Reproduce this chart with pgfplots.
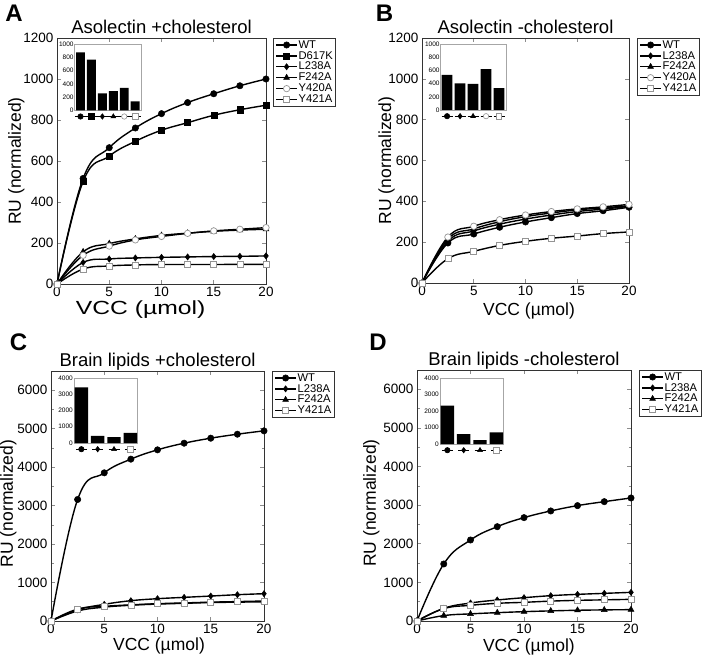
\documentclass[border=0pt]{standalone}
\usepackage{fontspec}
\setmainfont{Liberation Sans}
\usepackage{pgfplots}
\pgfplotsset{compat=1.18}

\definecolor{opengray}{gray}{0.58}

% small legend-like marks used as inset tick labels
\newcommand{\mkr}[3]{\tikz[baseline=-0.5ex]{\draw[line width=1pt] (-5.5pt,0)--(5.5pt,0);
  \begin{pgfscope}\pgfsetstrokecolor{#1}\pgfsetfillcolor{#2}\pgfsetlinewidth{0.6pt}%
  \pgfsetplotmarksize{2.7pt}\pgfuseplotmark{#3}\end{pgfscope}}}
\newcommand{\mWT}{\mkr{black}{black}{*}}
\newcommand{\mSQ}{\mkr{black}{black}{square*}}
\newcommand{\mDM}{\mkr{black}{black}{diamond*}}
\newcommand{\mTR}{\mkr{black}{black}{triangle*}}
\newcommand{\mOC}{\mkr{opengray}{white}{*}}
\newcommand{\mOS}{\mkr{opengray}{white}{square*}}

\pgfplotsset{
  main/.style={
    scale only axis, anchor=south west,
    xmin=0, xmax=20, ymin=0, xtick={0,5,...,20},
    tick align=inside, major tick length=4pt, minor tick length=2.5pt,
    tick style={black!45, line width=0.6pt},
    axis line style={black!80, line width=0.9pt},
    ticklabel style={font=\fontsize{13.5}{15}\selectfont},
    /pgf/number format/assume math mode=true,
    /pgf/number format/1000 sep={},
    scaled y ticks=false,
    label style={font=\fontsize{17.5}{20}\selectfont},
    title style={font=\fontsize{18.5}{21}\selectfont, at={(axis description cs:0.5,1)}, anchor=base, yshift=-1.5pt},
    legend style={at={(1,1)}, anchor=north west, draw=black!80, line width=0.8pt,
      font=\fontsize{11.2}{12}\selectfont, inner xsep=2pt, inner ysep=1.2pt,
      nodes={inner sep=0.8pt}, cells={anchor=west}},
    legend image code/.code={\draw[mark repeat=2,mark phase=2] plot coordinates {(0pt,0pt)(10.5pt,0pt)(21pt,0pt)};},
  },
  ins/.style={
    scale only axis, anchor=south west, ybar, ymin=0, xtick=data,
    bar width=0.82, major tick length=0pt,
    axis line style={black!35, line width=0.7pt},
    yticklabel style={font=\fontsize{6.5}{7}\selectfont, inner sep=1pt},
    xticklabel style={inner sep=0pt, yshift=-3.3pt},
    /pgf/number format/assume math mode=true,
    /pgf/number format/1000 sep={},
    scaled y ticks=false,
  },
  base/.style={black, line width=1.4pt, smooth, tension=0.7, mark options={solid}},
  wt/.style={base, mark=*, mark size=3.2pt, mark options={fill=black, line width=0.5pt}},
  sq/.style={base, mark=square*, mark size=3pt, mark options={fill=black, line width=0.5pt}},
  dm/.style={base, mark=diamond*, mark size=3.1pt, mark options={fill=black, line width=0.5pt}},
  tr/.style={base, mark=triangle*, mark size=3.4pt, mark options={fill=black, line width=0.5pt}},
  oc/.style={base, mark=*, mark size=3.2pt, mark options={draw=opengray, fill=white, line width=0.7pt}},
  os/.style={base, mark=square*, mark size=3pt, mark options={draw=opengray, fill=white, line width=0.7pt}},
  bars/.style={fill=black, draw=none},
}

\begin{document}
\begin{tikzpicture}
\useasboundingbox (0,0) rectangle (709pt,657pt);

% ---------------- A ----------------
\begin{axis}[main, at={(57pt,373pt)}, width=209pt, height=246pt,
  ymax=1200, ytick={0,200,...,1200},
  title={Asolectin +cholesterol},
  xlabel={\fontsize{19}{21}\selectfont\scalebox{1.3}[1]{VCC (µmol)}},
  ylabel={RU (normalized)},
  xlabel style={at={(axis description cs:0.40,-0.106)}, anchor=center},
  ylabel style={at={(axis description cs:-0.194,0.5)}, anchor=center},
  legend style={xshift=7pt}]
\addplot[wt] coordinates {(0,0)(2.5,515)(5,665)(7.5,761)(10,831)(12.5,885)(15,928)(17.5,967)(20,1000)};
\addplot[sq] coordinates {(0,0)(2.5,500)(5,624)(7.5,696)(10,750)(12.5,787)(15,823)(17.5,850)(20,872)};
\addplot[dm] coordinates {(0,0)(2.5,105)(5,122)(7.5,127)(10,130)(12.5,132)(15,134)(17.5,135)(20,137)};
\addplot[tr] coordinates {(0,0)(2.5,157)(5,197)(7.5,220)(10,237)(12.5,248)(15,257)(17.5,263)(20,267)};
\addplot[oc] coordinates {(0,0)(2.5,140)(5,185)(7.5,215)(10,232)(12.5,247)(15,259)(17.5,267)(20,275)};
\addplot[os] coordinates {(0,0)(2.5,73)(5,88)(7.5,93)(10,95)(12.5,95)(15,95)(17.5,96)(20,96)};
\legend{WT,D617K,L238A,F242A,Y420A,Y421A}
\end{axis}
\begin{axis}[ins, at={(74.7pt,546.7pt)}, width=66.3pt, height=66.3pt,
  xmin=-0.53, xmax=5.53, ymax=1000, ytick={0,200,...,1000},
  xticklabels={\mWT,\mSQ,\mDM,\mTR,\mOC,\mOS}]
\addplot[bars] coordinates {(0,875)(1,765)(2,255)(3,288)(4,340)(5,133)};
\end{axis}

% ---------------- B ----------------
\begin{axis}[main, at={(422pt,374pt)}, width=207pt, height=245pt,
  ymax=1200, ytick={0,200,...,1200},
  title={Asolectin -cholesterol},
  xlabel={VCC (µmol)}, ylabel={RU (normalized)},
  xlabel style={at={(axis description cs:0.517,-0.114)}, anchor=center},
  ylabel style={at={(axis description cs:-0.171,0.5)}, anchor=center},
  legend style={xshift=8pt}]
\addplot[wt] coordinates {(0,0)(2.5,196)(5,240)(7.5,273)(10,299)(12.5,320)(15,340)(17.5,354)(20,371)};
\addplot[dm] coordinates {(0,0)(2.5,205)(5,255)(7.5,288)(10,313)(12.5,333)(15,350)(17.5,362)(20,375)};
\addplot[tr] coordinates {(0,0)(2.5,215)(5,265)(7.5,300)(10,325)(12.5,343)(15,358)(17.5,368)(20,378)};
\addplot[oc] coordinates {(0,0)(2.5,225)(5,278)(7.5,310)(10,333)(12.5,350)(15,363)(17.5,373)(20,385)};
\addplot[os] coordinates {(0,0)(2.5,119)(5,155)(7.5,184)(10,204)(12.5,219)(15,230)(17.5,242)(20,250)};
\legend{WT,L238A,F242A,Y420A,Y421A}
\end{axis}
\begin{axis}[ins, at={(440.7pt,547pt)}, width=66pt, height=66pt,
  xmin=-0.49, xmax=4.59, ymax=1000, ytick={0,200,...,1000},
  xticklabels={\mWT,\mDM,\mTR,\mOC,\mOS}]
\addplot[bars] coordinates {(0,532)(1,405)(2,397)(3,618)(4,330)};
\end{axis}

% ---------------- C ----------------
\begin{axis}[main, at={(51pt,36pt)}, width=213pt, height=250pt,
  ymax=6500, ytick={0,1000,...,6000}, minor y tick num=1,
  title={Brain lipids +cholesterol},
  xlabel={VCC (µmol)}, ylabel={RU (normalized)},
  xlabel style={at={(axis description cs:0.507,-0.1)}, anchor=center},
  ylabel style={at={(axis description cs:-0.200,0.47)}, anchor=center},
  legend style={xshift=8pt}]
\addplot[wt] coordinates {(0,0)(2.5,3160)(5,3853)(7.5,4208)(10,4450)(12.5,4623)(15,4753)(17.5,4857)(20,4944)};
\addplot[dm] coordinates {(0,0)(2.5,290)(5,433)(7.5,528)(10,580)(12.5,615)(15,649)(17.5,684)(20,710)};
\addplot[tr] coordinates {(0,0)(2.5,260)(5,360)(7.5,410)(10,440)(12.5,460)(15,480)(17.5,490)(20,500)};
\addplot[os] coordinates {(0,0)(2.5,310)(5,380)(7.5,420)(10,450)(12.5,470)(15,490)(17.5,505)(20,520)};
\legend{WT,L238A,F242A,Y421A}
\end{axis}
\begin{axis}[ins, at={(74pt,214pt)}, width=63.7pt, height=65pt,
  xmin=-0.45, xmax=3.45, ymax=4000, ytick={0,1000,...,4000},
  xticklabels={\mWT,\mDM,\mTR,\mOS}]
\addplot[bars] coordinates {(0,3430)(1,440)(2,360)(3,620)};
\end{axis}

% ---------------- D ----------------
\begin{axis}[main, at={(417pt,36pt)}, width=214pt, height=251pt,
  ymax=6500, ytick={0,1000,...,6000}, minor y tick num=1,
  title={Brain lipids -cholesterol},
  xlabel={VCC (µmol)}, ylabel={RU (normalized)},
  xlabel style={at={(axis description cs:0.523,-0.104)}, anchor=center},
  ylabel style={at={(axis description cs:-0.213,0.47)}, anchor=center},
  legend style={xshift=8pt}]
\addplot[wt] coordinates {(0,0)(2.5,1477)(5,2098)(7.5,2443)(10,2677)(12.5,2850)(15,2988)(17.5,3091)(20,3186)};
\addplot[dm] coordinates {(0,0)(2.5,328)(5,466)(7.5,544)(10,604)(12.5,656)(15,690)(17.5,716)(20,742)};
\addplot[tr] coordinates {(0,0)(2.5,140)(5,185)(7.5,216)(10,242)(12.5,262)(15,278)(17.5,288)(20,294)};
\addplot[os] coordinates {(0,0)(2.5,320)(5,406)(7.5,458)(10,484)(12.5,515)(15,535)(17.5,548)(20,561)};
\legend{WT,L238A,F242A,Y421A}
\end{axis}
\begin{axis}[ins, at={(440pt,213pt)}, width=63.7pt, height=66pt,
  xmin=-0.45, xmax=3.45, ymax=4000, ytick={0,1000,...,4000},
  xticklabels={\mWT,\mDM,\mTR,\mOS}]
\addplot[bars] coordinates {(0,2330)(1,600)(2,230)(3,700)};
\end{axis}

% panel letters
\node[font=\bfseries\fontsize{24}{26}\selectfont] at (14pt,644pt) {A};
\node[font=\bfseries\fontsize{24}{26}\selectfont] at (384.5pt,644pt) {B};
\node[font=\bfseries\fontsize{24}{26}\selectfont] at (18.5pt,315pt) {C};
\node[font=\bfseries\fontsize{24}{26}\selectfont] at (378pt,315pt) {D};
\end{tikzpicture}
\end{document}
